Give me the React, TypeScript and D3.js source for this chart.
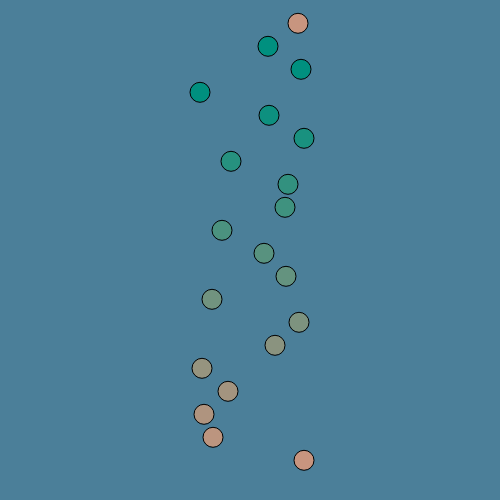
import React, { useEffect, useRef } from "react";
import * as d3 from "d3";

// horizontal positions of the dots, top to bottom
const xValues = [298, 268, 301, 200, 269, 304, 231, 288, 285, 222, 264, 286, 212, 299, 275, 202, 228, 204, 213, 304];
// shade of each dot on the teal -> tan ramp
const shadeValues = [19, 0, 1, 2, 3, 4, 5, 6, 7, 8, 9, 10, 11, 12, 13, 14, 15, 16, 17, 18];

const Dots: React.FC<{ width?: number; height?: number }> = ({ width = 500, height = 500 }) => {
  const svgRef = useRef<SVGSVGElement | null>(null);

  useEffect(() => {
    const svg = d3.select(svgRef.current);
    svg.selectAll("*").remove();

    svg.append("rect").attr("width", width).attr("height", height).attr("fill", "#4b7f99");

    const xScale = d3.scaleLinear().domain([0, width]).range([0, width]);
    const yScale = d3.scaleLinear().domain([0, xValues.length - 1]).range([23.3, 460.3]);
    const color = d3
      .scaleLinear<string>()
      .domain([2, 18])
      .range(["#00907f", "#c8957f"])
      .interpolate(d3.interpolateRgb)
      .clamp(true);

    svg
      .selectAll("circle")
      .data(xValues)
      .enter()
      .append("circle")
      .attr("cx", (d) => xScale(d))
      .attr("cy", (_, i) => yScale(i))
      .attr("r", 10)
      .attr("fill", (_, i) => color(shadeValues[i]))
      .attr("stroke", "#000")
      .attr("stroke-width", 1);
  }, [width, height]);

  return <svg ref={svgRef} width={width} height={height} style={{ display: "block" }}></svg>;
};

export default function App() {
  return (
    <div style={{ position: "absolute", left: 0, top: 0 }}>
      <Dots />
    </div>
  );
}
